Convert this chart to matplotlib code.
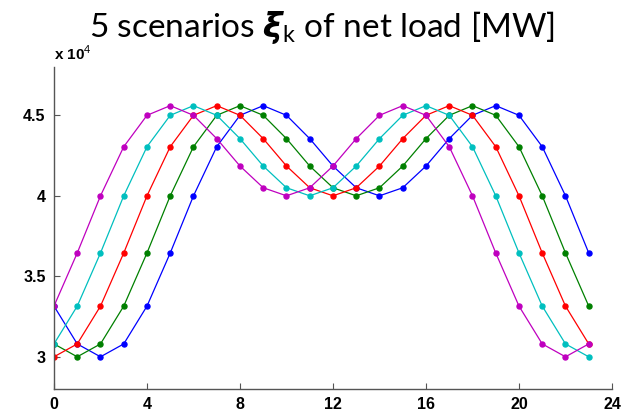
import matplotlib
matplotlib.use("Agg")
import matplotlib.pyplot as plt
from matplotlib.ticker import FuncFormatter

hours = list(range(24))
# Net load scenarios [MW]
blue = [33150, 30800, 30000, 30800, 33150, 36450, 40000, 43050, 45000, 45600, 45000, 43550,
        41850, 40500, 40000, 40500, 41850, 43550, 45000, 45600, 45000, 43050, 40000, 36450]
green = [30800, 30000, 30800, 33150, 36450, 40000, 43050, 45000, 45600, 45000, 43550, 41850,
         40500, 40000, 40500, 41850, 43550, 45000, 45600, 45000, 43050, 40000, 36450, 33150]
red = [30000, 30800, 33150, 36450, 40000, 43050, 45000, 45600, 45000, 43550, 41850, 40500,
       40000, 40500, 41850, 43550, 45000, 45600, 45000, 43050, 40000, 36450, 33150, 30800]
cyan = [30800, 33150, 36450, 40000, 43050, 45000, 45600, 45000, 43550, 41850, 40500, 40000,
        40500, 41850, 43550, 45000, 45600, 45000, 43050, 40000, 36450, 33150, 30800, 30000]
magenta = [33150, 36450, 40000, 43050, 45000, 45600, 45000, 43550, 41850, 40500, 40000, 40500,
           41850, 43550, 45000, 45600, 45000, 43050, 40000, 36450, 33150, 30800, 30000, 30800]

series = [blue, green, red, cyan, magenta]
colors = ["#0000ff", "#008000", "#ff0000", "#00bfbf", "#bf00bf"]
xticks = [0, 4, 8, 12, 16, 20, 24]
yticks = [30000, 35000, 40000, 45000]

plt.rcParams['mathtext.fontset'] = 'custom'
plt.rcParams['mathtext.rm'] = 'Lato'
plt.rcParams['mathtext.bf'] = 'DejaVu Sans:italic:bold'

fig = plt.figure(figsize=(6.33, 4.16), dpi=100)
ax = fig.add_axes([0.0853, 0.0649, 0.8815, 0.774])

for ys, c in zip(series, colors):
    ax.plot(hours, ys, color=c, lw=0.9, marker='o', ms=3.6, mec=c, mfc=c)

ax.set_xlim(0, 24)
ax.set_ylim(28000, 48000)
ax.set_xticks(xticks)
ax.set_yticks(yticks)
ax.yaxis.set_major_formatter(FuncFormatter(lambda v, p: f"{v/1e4:g}"))
for s in ['top', 'right']:
    ax.spines[s].set_visible(False)
for s in ['left', 'bottom']:
    ax.spines[s].set_color('#555555')
    ax.spines[s].set_linewidth(1.0)
ax.tick_params(direction='in', length=4, color='#555555', labelsize=11.5, pad=6)
for lab in ax.get_xticklabels() + ax.get_yticklabels():
    lab.set_fontweight('bold')
    lab.set_family('Liberation Sans')

fig.text(54/633, 1 - 60/416, r"x 10$^{4}$", fontsize=11, fontweight='bold',
         family='Liberation Sans', ha='left', va='baseline')

fig.text(322/633, 1 - 37/416, r"5 scenarios $\mathbf{\xi}_{\mathrm{k}}$ of net load [MW]",
         fontsize=24, family='Lato', ha='center', va='baseline')

fig.savefig("out.png", dpi=100)
